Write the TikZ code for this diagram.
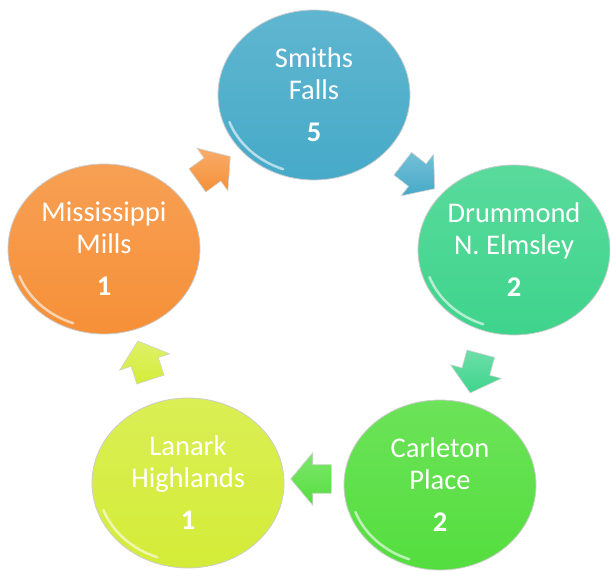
\documentclass[tikz,border=0pt]{standalone}
\usepackage{fontspec}
\setmainfont{Carlito}
\usetikzlibrary{shapes.geometric,shapes.arrows,calc}
\definecolor{fallsblue}{RGB}{70,170,200}
\definecolor{drummondgreen}{RGB}{62,212,140}
\definecolor{carletongreen}{RGB}{84,222,62}
\definecolor{lanarkyellow}{RGB}{212,236,56}
\definecolor{millsorange}{RGB}{246,144,56}
\tikzset{
  town/.style={ellipse, draw=gray!40, line width=0.8pt, minimum width=192pt, minimum height=170pt,
    inner sep=0pt, text=white, align=center, font=\fontsize{28.5}{32}\selectfont,
    top color=#1!86!white, bottom color=#1},
  shine/.style={white, line width=2.5pt, opacity=0.6, line cap=round},
  flow/.style={single arrow, draw=gray!35, line width=0.6pt, inner sep=14pt, minimum height=40pt,
    single arrow head extend=12pt, single arrow tip angle=100,
    top color=#1!75!white, bottom color=#1}
}

\begin{document}
\begin{tikzpicture}[x=1pt, y=1pt]
\useasboundingbox (0,0) rectangle (610,570);

\node[town=fallsblue] (falls) at (314,475) {Smiths\\Falls\\[10pt]\textbf{5}};
\node[town=drummondgreen] (drummond) at (514,320) {Drummond\\N. Elmsley\\[10pt]\textbf{2}};
\node[town=carletongreen] (carleton) at (440,85) {Carleton\\Place\\[10pt]\textbf{2}};
\node[town=lanarkyellow] (lanark) at (188,87) {Lanark\\Highlands\\[10pt]\textbf{1}};
\node[town=millsorange] (mills) at (104,321) {Mississippi\\Mills\\[10pt]\textbf{1}};

% glossy rims
\foreach \t in {falls,drummond,carleton,lanark,mills}
  \draw[shine] ($(\t.center)+(200:90 and 79)$) arc[start angle=200, end angle=250, x radius=90, y radius=79];

% arrows round the cycle
\node[flow=millsorange, rotate=36] (mills-falls) at ($(mills)!0.5!(falls)$) {};
\node[flow=fallsblue, rotate=-38] (falls-drummond) at ($(falls)!0.5!(drummond)$) {};
\node[flow=drummondgreen, rotate=-105] (drummond-carleton) at ($(drummond)!0.5!(carleton)$) {};
\node[flow=carletongreen, rotate=180] (carleton-lanark) at ($(carleton)!0.5!(lanark)+(3,5)$) {};
\node[flow=lanarkyellow, rotate=108] (lanark-mills) at ($(lanark)!0.5!(mills)$) {};
\end{tikzpicture}
\end{document}
